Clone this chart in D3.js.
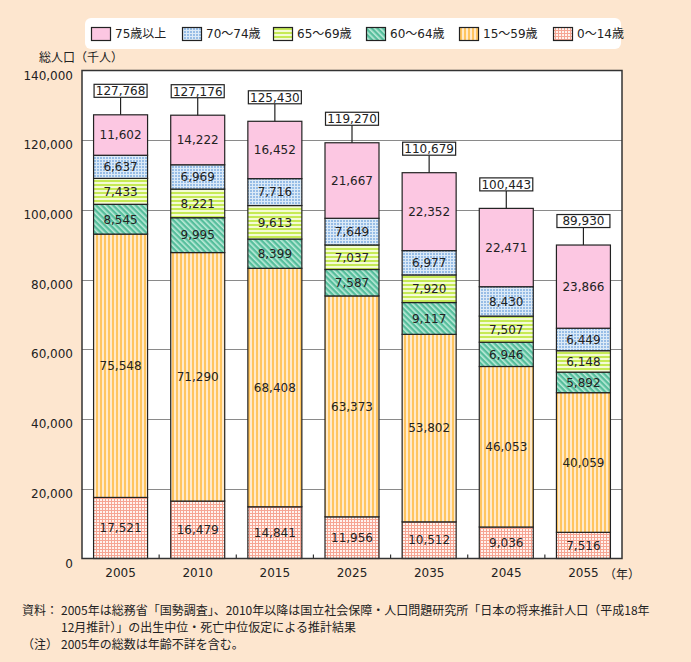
<!DOCTYPE html>
<html><head><meta charset="utf-8">
<script src="https://cdn.jsdelivr.net/npm/d3@7"></script>
<style>
html,body{margin:0;padding:0;background:#FDE6CF;}
svg{display:block;}
</style></head>
<body>
<script>
const years = ["2005","2010","2015","2025","2035","2045","2055"];
const age0_14   = [17521,16479,14841,11956,10512,9036,7516];
const age15_59  = [75548,71290,68408,63373,53802,46053,40059];
const age60_64  = [8545,9995,8399,7587,9117,6946,5892];
const age65_69  = [7433,8221,9613,7037,7920,7507,6148];
const age70_74  = [6637,6969,7716,7649,6977,8430,6449];
const age75plus = [11602,14222,16452,21667,22352,22471,23866];
const totals    = [127768,127176,125430,119270,110679,100443,89930];
const seriesKeys = ["0～14歳","15～59歳","60～64歳","65～69歳","70～74歳","75歳以上"];
const seriesVals = [age0_14,age15_59,age60_64,age65_69,age70_74,age75plus];
const legendOrder = ["75歳以上","70～74歳","65～69歳","60～64歳","15～59歳","0～14歳"];
const yTicks = [0,20000,40000,60000,80000,100000,120000,140000];

const W=691,H=662;
const svg=d3.select("body").append("svg").attr("width",W).attr("height",H);
svg.append("rect").attr("width",W).attr("height",H).attr("fill","#FDE6CF");

const defs=svg.append("defs");
function mk(id,w,h,bg,draw,tr){
  const p=defs.append("pattern").attr("id",id).attr("patternUnits","userSpaceOnUse").attr("width",w).attr("height",h);
  if(tr) p.attr("patternTransform",tr);
  p.append("rect").attr("width",w).attr("height",h).attr("fill",bg);
  draw(p);
}
mk("p75",4,4,"#FCC7E2",()=>{});
mk("p70",3,3,"#DCEAF7",p=>{p.append("rect").attr("x",1).attr("y",1).attr("width",2).attr("height",2).attr("fill","#97BDE6");});
mk("p65",4,4,"#F4FBD6",p=>{p.append("rect").attr("x",0).attr("y",0).attr("width",4).attr("height",2).attr("fill","#C6EA55");});
mk("p60",4,4,"#56BE9C",p=>{p.append("rect").attr("x",0).attr("y",0).attr("width",1.6).attr("height",4).attr("fill","#BDEBD9");},"rotate(-45)");
mk("p15",4,4,"#FFEACB",p=>{p.append("rect").attr("x",0).attr("y",0).attr("width",2).attr("height",4).attr("fill","#FFC55F");});
mk("p0",3,3,"#F6A593",p=>{p.append("rect").attr("x",1).attr("y",1).attr("width",2).attr("height",2).attr("fill","#FFF3EE");});
const fills={"75歳以上":"url(#p75)","70～74歳":"url(#p70)","65～69歳":"url(#p65)","60～64歳":"url(#p60)","15～59歳":"url(#p15)","0～14歳":"url(#p0)"};

const px0=82, px1=622, py0=70.5, py1=558.5;
const x=d3.scaleBand().domain(years).range([px0,px1]).paddingInner(0.3).paddingOuter(0.15);
const y=d3.scaleLinear().domain([0,140000]).range([py1,py0]);

const numFont="'DejaVu Sans','Noto Sans CJK JP',sans-serif";
const jpFont="'Noto Sans CJK JP',sans-serif";

// plot background
svg.append("rect").attr("x",px0).attr("y",py0).attr("width",px1-px0).attr("height",py1-py0).attr("fill","#fff");
// gridlines
svg.append("g").selectAll("line").data(yTicks.filter(d=>d>0&&d<140000)).join("line")
  .attr("x1",px0).attr("x2",px1).attr("y1",d=>Math.round(y(d))+0.5).attr("y2",d=>Math.round(y(d))+0.5)
  .attr("stroke","#8a8a8a").attr("stroke-width",1);

// data table
const table=years.map((yr,i)=>{const o={year:yr};seriesKeys.forEach((k,j)=>o[k]=seriesVals[j][i]);return o;});
const stack=d3.stack().keys(seriesKeys)(table);

const gBars=svg.append("g");
stack.forEach(layer=>{
  gBars.selectAll(null).data(layer).join("rect")
    .attr("x",d=>x(d.data.year)).attr("width",x.bandwidth())
    .attr("y",d=>y(d[1])).attr("height",d=>y(d[0])-y(d[1]))
    .attr("fill",fills[layer.key]).attr("stroke","#222").attr("stroke-width",1.2);
});
// segment labels
stack.forEach(layer=>{
  gBars.selectAll(null).data(layer).join("text")
    .attr("x",d=>x(d.data.year)+x.bandwidth()/2)
    .attr("y",d=>(y(d[0])+y(d[1]))/2).attr("dy","0.36em")
    .attr("text-anchor","middle").attr("font-family",numFont).attr("font-size",12).attr("fill","#222")
    .text(d=>d3.format(",")(d[1]-d[0]));
});

// totals
const topY=years.map((yr,i)=>y(d3.sum(seriesVals,s=>s[i])));
const gT=svg.append("g");
years.forEach((yr,i)=>{
  const cx=x(yr)+x.bandwidth()/2, by=topY[i];
  gT.append("line").attr("x1",cx).attr("x2",cx).attr("y1",by-17.5).attr("y2",by).attr("stroke","#222").attr("stroke-width",1.2);
  gT.append("rect").attr("x",x(yr)+0.5).attr("y",by-30.5).attr("width",x.bandwidth()-1).attr("height",13)
    .attr("fill","#fff").attr("stroke","#222").attr("stroke-width",1.2);
  gT.append("text").attr("x",cx).attr("y",by-24).attr("dy","0.36em").attr("text-anchor","middle")
    .attr("font-family",numFont).attr("font-size",12).attr("fill","#222").text(d3.format(",")(totals[i]));
});

// plot border
svg.append("rect").attr("x",px0).attr("y",py0).attr("width",px1-px0).attr("height",py1-py0)
  .attr("fill","none").attr("stroke","#333").attr("stroke-width",1.5);

// x-axis small ticks at category boundaries
const step=x.step();
const bounds=years.slice(1).map(yr=>x(yr)-(step-x.bandwidth())/2);
svg.append("g").selectAll("line").data(bounds).join("line")
  .attr("x1",d=>d).attr("x2",d=>d).attr("y1",py1-4).attr("y2",py1).attr("stroke","#333").attr("stroke-width",1.2);

// y axis labels
const yAxis=d3.axisLeft(y).tickValues(yTicks).tickSize(0).tickPadding(9).tickFormat(d3.format(","));
const ga=svg.append("g").attr("transform",`translate(${px0},0)`).call(yAxis);
ga.select(".domain").remove();
ga.selectAll("text").attr("font-family",numFont).attr("font-size",12).attr("fill","#222").attr("dy","0.72em");

// x axis labels
const xAxis=d3.axisBottom(x).tickSize(0).tickPadding(10);
const gx=svg.append("g").attr("transform",`translate(0,${py1})`).call(xAxis);
gx.select(".domain").remove();
gx.selectAll("text").attr("font-family",numFont).attr("font-size",12).attr("fill","#222").attr("dy","0.71em");
svg.append("text").attr("x",604).attr("y",579).attr("font-family",jpFont).attr("font-size",12).attr("fill","#222").text("（年）");

// y title
svg.append("text").attr("x",39).attr("y",62).attr("font-family",jpFont).attr("font-size",12).attr("fill","#222").text("総人口（千人）");

// legend
const lg=svg.append("g");
lg.append("rect").attr("x",85).attr("y",18).attr("width",536).attr("height",31).attr("rx",6).attr("fill","#fff");
const lx=[91,182,273,366,459,553];
legendOrder.forEach((k,i)=>{
  lg.append("rect").attr("x",lx[i]+0.5).attr("y",27.5).attr("width",19).attr("height",13).attr("fill",fills[k]).attr("stroke","#222").attr("stroke-width",1.2);
  lg.append("text").attr("x",lx[i]+24).attr("y",34).attr("dy","0.36em").attr("font-family",numFont).attr("font-size",12).attr("fill","#222").text(k);
});

// footnote
const fn=svg.append("g").attr("font-family",jpFont).attr("font-size",12).attr("fill","#222");
fn.append("text").attr("x",22).attr("y",615).text("資料：");
fn.append("text").attr("x",61).attr("y",615).text("2005年は総務省「国勢調査」、2010年以降は国立社会保障・人口問題研究所「日本の将来推計人口（平成18年");
fn.append("text").attr("x",61).attr("y",632).text("12月推計）」の出生中位・死亡中位仮定による推計結果");
fn.append("text").attr("x",22).attr("y",649).text("（注）");
fn.append("text").attr("x",61).attr("y",649).text("2005年の総数は年齢不詳を含む。");
</script>
</body></html>
